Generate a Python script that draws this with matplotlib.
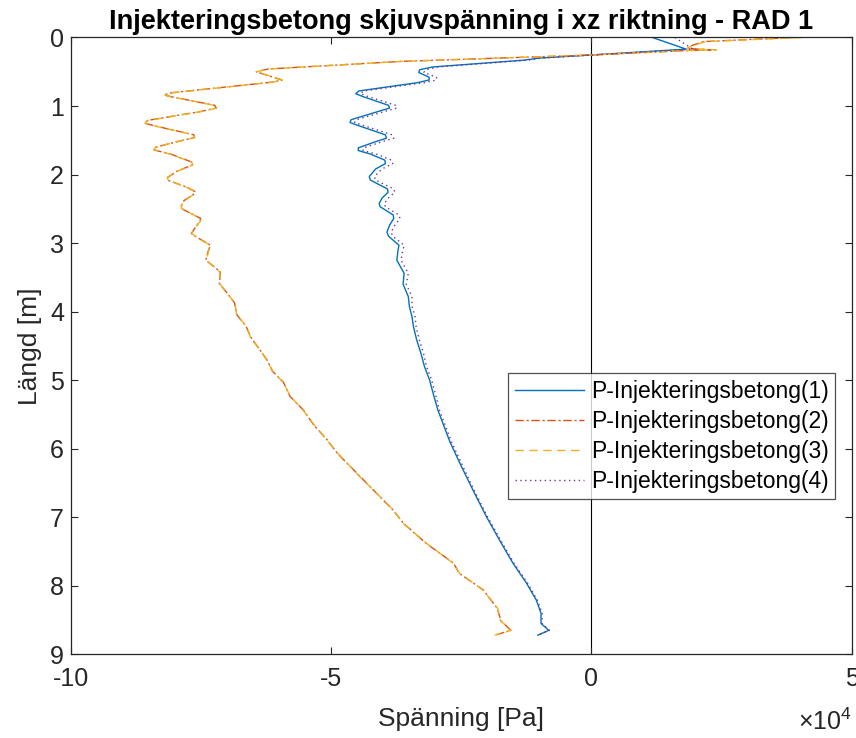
import matplotlib
matplotlib.use("Agg")
import matplotlib.pyplot as plt
from matplotlib.ticker import FuncFormatter
import numpy as np

plt.rcParams['font.family'] = ['Liberation Sans', 'DejaVu Sans']
plt.rcParams['axes.unicode_minus'] = False
plt.rcParams['mathtext.fontset'] = 'custom'
plt.rcParams['mathtext.rm'] = 'Liberation Sans'
plt.rcParams['mathtext.it'] = 'Liberation Sans'

# Depth [m] and shear stress [10^4 Pa] for the four grout profiles
depth_a = [0.00, 0.17, 0.255, 0.30, 0.33, 0.43, 0.47, 0.51, 0.58, 0.62, 0.66, 0.78, 0.82, 0.86,
           0.99, 1.03, 1.08, 1.20, 1.24, 1.28, 1.42, 1.47, 1.52, 1.61, 1.65, 1.70, 1.79, 1.84,
           1.92, 2.03, 2.08, 2.21, 2.26, 2.34, 2.42, 2.47, 2.59, 2.64, 2.74, 2.84, 2.90, 3.03,
           3.12, 3.25, 3.44, 3.60, 3.78, 3.92, 4.07, 4.22, 4.41, 4.60, 4.80, 5.00, 5.20, 5.44,
           5.68, 5.90, 6.21, 6.60, 6.99, 7.33, 7.67, 7.96, 8.21, 8.40, 8.55, 8.65, 8.72]

stress_1 = [1.17, 1.82, 0.00, -1.00, -1.29, -3.05, -3.30, -3.32, -3.12, -3.12, -3.35, -4.47,
            -4.53, -4.40, -3.90, -3.88, -4.10, -4.62, -4.64, -4.50, -3.96, -3.94, -4.15, -4.48,
            -4.48, -4.25, -3.97, -3.96, -4.15, -4.27, -4.25, -3.92, -3.91, -4.02, -4.08, -4.06,
            -3.81, -3.80, -3.88, -3.93, -3.90, -3.70, -3.72, -3.74, -3.60, -3.62, -3.52, -3.50,
            -3.45, -3.42, -3.36, -3.28, -3.21, -3.11, -3.04, -2.95, -2.83, -2.72, -2.53, -2.28,
            -2.02, -1.77, -1.51, -1.25, -1.06, -0.97, -0.97, -0.82, -1.03]

stress_4 = [1.60, 1.95, 0.05, -0.95, -1.22, -2.95, -3.18, -3.22, -2.98, -2.98, -3.22, -4.38,
            -4.44, -4.30, -3.76, -3.74, -3.98, -4.52, -4.55, -4.40, -3.83, -3.80, -4.02, -4.38,
            -4.39, -4.14, -3.84, -3.82, -4.03, -4.17, -4.15, -3.80, -3.78, -3.90, -3.98, -3.96,
            -3.70, -3.68, -3.78, -3.85, -3.82, -3.60, -3.63, -3.66, -3.52, -3.56, -3.45, -3.45,
            -3.39, -3.37, -3.31, -3.23, -3.17, -3.07, -3.00, -2.92, -2.80, -2.69, -2.50, -2.26,
            -2.00, -1.75, -1.49, -1.23, -1.04, -0.95, -0.95, -0.81, -1.02]

depth_b = [0.00, 0.06, 0.13, 0.16, 0.18, 0.19, 0.255, 0.35, 0.46, 0.50, 0.62, 0.65, 0.81, 0.84,
           0.87, 0.99, 1.03, 1.08, 1.21, 1.25, 1.29, 1.42, 1.46, 1.51, 1.60, 1.64, 1.70, 1.82,
           1.86, 1.95, 2.04, 2.08, 2.18, 2.25, 2.29, 2.38, 2.46, 2.50, 2.64, 2.68, 2.77, 2.86,
           2.92, 3.03, 3.13, 3.25, 3.42, 3.59, 3.73, 3.87, 4.05, 4.21, 4.38, 4.55, 4.71, 4.87,
           5.03, 5.24, 5.44, 5.65, 5.87, 6.07, 6.41, 6.89, 7.09, 7.38, 7.67, 7.82, 8.06, 8.33,
           8.51, 8.65, 8.72]

stress_2 = [3.90, 2.15, 1.88, 1.85, 2.30, 1.85, 0.00, -3.69, -6.22, -6.44, -5.95, -6.12,
            -8.11, -8.21, -8.04, -7.24, -7.21, -7.51, -8.53, -8.59, -8.39, -7.64, -7.63, -7.91,
            -8.37, -8.41, -8.09, -7.67, -7.67, -7.96, -8.14, -8.15, -7.79, -7.61, -7.65, -7.83,
            -7.88, -7.87, -7.51, -7.52, -7.61, -7.69, -7.57, -7.32, -7.37, -7.41, -7.13, -7.15,
            -7.00, -6.86, -6.81, -6.64, -6.54, -6.38, -6.23, -6.13, -5.92, -5.79, -5.53, -5.34,
            -5.08, -4.88, -4.44, -3.82, -3.61, -3.18, -2.65, -2.54, -2.08, -1.81, -1.74, -1.55,
            -1.85]

stress_3 = [4.05, 2.20, 1.90, 1.85, 2.40, 1.85, 0.00, -3.69, -6.20, -6.44, -5.94, -6.10,
            -8.10, -8.20, -8.05, -7.25, -7.20, -7.50, -8.52, -8.58, -8.40, -7.65, -7.62, -7.90,
            -8.38, -8.40, -8.10, -7.68, -7.66, -7.95, -8.15, -8.14, -7.80, -7.62, -7.64, -7.82,
            -7.89, -7.86, -7.52, -7.51, -7.62, -7.68, -7.58, -7.33, -7.36, -7.40, -7.14, -7.14,
            -7.01, -6.85, -6.82, -6.63, -6.55, -6.37, -6.24, -6.12, -5.93, -5.78, -5.54, -5.33,
            -5.09, -4.87, -4.45, -3.81, -3.62, -3.17, -2.66, -2.53, -2.09, -1.80, -1.75, -1.54,
            -1.86]

labels = ['P-Injekteringsbetong(1)', 'P-Injekteringsbetong(2)',
          'P-Injekteringsbetong(3)', 'P-Injekteringsbetong(4)']
x_ticks = [-10, -5, 0, 5]
y_ticks = list(range(0, 10))

scale = 1e4
c_blue = '#0072BD'
c_red = '#D95319'
c_yel = '#EDB120'
c_pur = '#7E2F8E'
axc = '#262626'

fig = plt.figure(figsize=(8.56, 7.38), dpi=100)
ax = fig.add_axes([0.083, 0.1134, 0.912, 0.8358])

ax.plot(np.array(stress_1) * scale, depth_a, color=c_blue, lw=1.0, ls='-', label=labels[0])
ax.plot(np.array(stress_2) * scale, depth_b, color=c_red, lw=1.0, ls=(0, (6, 2, 1.5, 2)), label=labels[1])
ax.plot(np.array(stress_3) * scale, depth_b, color=c_yel, lw=1.0, ls=(0, (6, 4)), label=labels[2])
ax.plot(np.array(stress_4) * scale, depth_a, color=c_pur, lw=1.0, ls=(0, (1, 2.5)), label=labels[3])

ax.axvline(0, color='black', lw=0.8, zorder=0)

ax.set_xlim(-10e4, 5e4)
ax.set_ylim(9, 0)
ax.set_xticks(np.array(x_ticks) * scale)
ax.set_yticks(y_ticks)
ax.xaxis.set_major_formatter(FuncFormatter(lambda v, p: f"{v / scale:g}"))

ax.tick_params(direction='in', length=5, width=0.8, colors=axc, labelsize=18,
               top=True, right=True)
ax.tick_params(axis='x', pad=9)
ax.tick_params(axis='y', pad=5)
for s in ax.spines.values():
    s.set_color(axc)
    s.set_linewidth(0.9)

ax.text(1.0, -0.088, r'$\times10^{4}$', transform=ax.transAxes, ha='right', va='top',
        fontsize=18, color=axc)

ax.set_title('Injekteringsbetong skjuvspänning i xz riktning - RAD 1',
             fontsize=19.5, fontweight='bold', color='black', pad=6)
ax.set_xlabel('Spänning [Pa]', fontsize=19, color=axc, labelpad=12)
ax.set_ylabel('Längd [m]', fontsize=19, color=axc, labelpad=6)

leg = ax.legend(loc='upper left', bbox_to_anchor=(0.56, 0.456), fontsize=16.5,
                frameon=True, fancybox=False, edgecolor=axc, handlelength=3.0,
                handletextpad=0.3, borderpad=0.3, labelspacing=0.3, borderaxespad=0)
leg.get_frame().set_linewidth(0.9)

fig.savefig('out.png', dpi=100)
